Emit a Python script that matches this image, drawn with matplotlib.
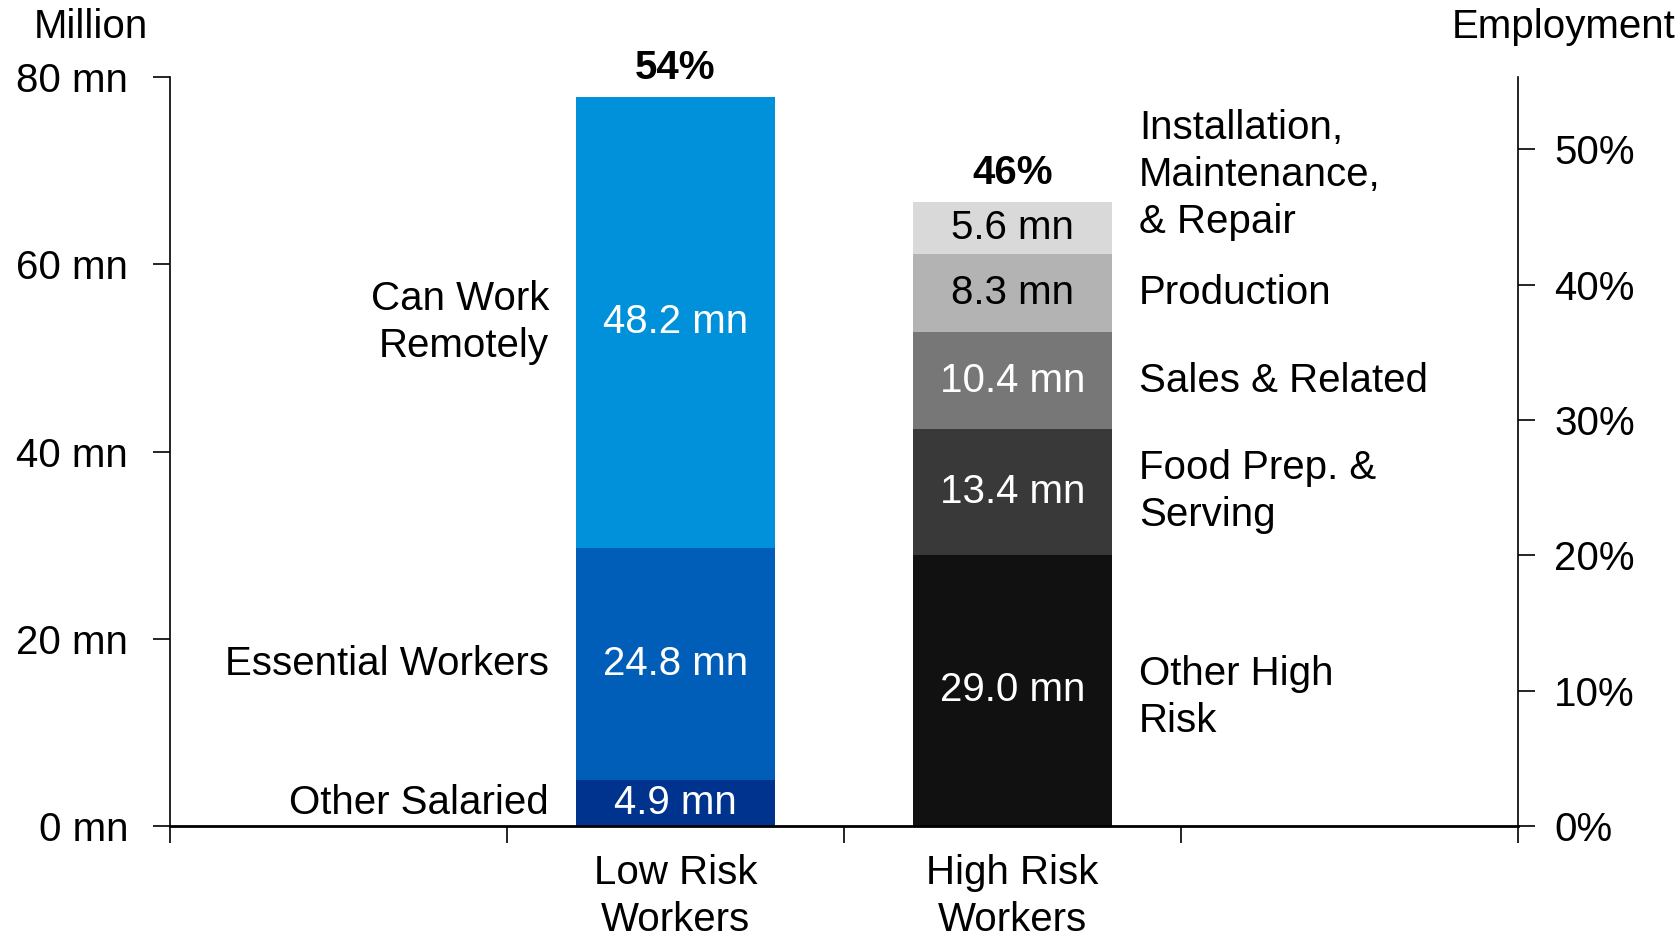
import numpy as np
import matplotlib.pyplot as plt

plt.rcParams['font.family'] = ['Liberation Sans', 'DejaVu Sans']
FS = 29
LS = 1.3

# data
groups = ["Low Risk\nWorkers", "High Risk\nWorkers"]
low_labels = ["Other Salaried", "Essential Workers", "Can Work\nRemotely"]
low_values = [4.9, 24.8, 48.2]
low_colors = ["#00338D", "#005EB8", "#0091DA"]
high_labels = ["Other High\nRisk", "Food Prep. &\nServing", "Sales & Related",
               "Production", "Installation,\nMaintenance,\n& Repair"]
high_values = [29.0, 13.4, 10.4, 8.3, 5.6]
high_colors = ["#111111", "#393939", "#777777", "#B3B3B3", "#D9D9D9"]
high_text = ["white", "white", "white", "black", "black"]

total = sum(low_values) + sum(high_values)

fig = plt.figure(figsize=(16.81, 9.41), dpi=100)
ax = fig.add_axes([0.101, 0.122, 0.802, 0.796])

w = 0.59
xl, xh = 1, 2

bottom = 0
for lab, v, c in zip(low_labels, low_values, low_colors):
    ax.bar(xl, v, w, bottom=bottom, color=c)
    mid = bottom + v / 2
    ax.text(xl, mid, f"{v:.1f} mn", ha="center", va="center", color="white", fontsize=FS)
    ax.text(xl - w / 2 - 0.08, mid, lab, ha="right", va="center", fontsize=FS,
            multialignment="right", linespacing=LS)
    bottom += v
ax.text(xl, bottom + 1.0, f"{sum(low_values) / total * 100:.0f}%", ha="center",
        va="bottom", fontsize=FS, fontweight="bold")

bottom = 0
for lab, v, c, tc in zip(high_labels, high_values, high_colors, high_text):
    ax.bar(xh, v, w, bottom=bottom, color=c)
    mid = bottom + v / 2
    ax.text(xh, mid, f"{v:.1f} mn", ha="center", va="center", color=tc, fontsize=FS)
    ly = mid
    if lab.startswith("Installation"):
        ly = mid + 5.6
    elif lab.startswith("Other"):
        ly = mid - 0.8
    ax.text(xh + w / 2 + 0.08, ly, lab, ha="left", va="center", fontsize=FS,
            linespacing=LS)
    bottom += v
ax.text(xh, bottom + 1.0, f"{sum(high_values) / total * 100:.0f}%", ha="center",
        va="bottom", fontsize=FS, fontweight="bold")

ax.set_xlim(-0.5, 3.5)
ax.set_ylim(0, 80)
ax.set_xticks([-0.5, 0.5, 1.5, 2.5, 3.5])
ax.set_xticklabels([])
ax.set_xticks([xl, xh], minor=True)
ax.set_xticklabels(groups, minor=True, fontsize=FS, linespacing=LS)
ax.tick_params(axis="x", which="minor", length=0, pad=20)
ax.tick_params(axis="x", which="major", length=12, width=1.2)
ax.set_yticks([0, 20, 40, 60, 80])
ax.set_yticklabels([f"{t} mn" for t in [0, 20, 40, 60, 80]], fontsize=FS)
ax.tick_params(axis="y", length=12, width=1.2, pad=18)
ax.spines["top"].set_visible(False)
ax.spines["right"].set_visible(False)
ax.spines["left"].set_linewidth(1.2)
ax.spines["bottom"].set_linewidth(2)

ax2 = ax.twinx()
ax2.set_ylim(0, 80 / total * 100)
ax2.set_yticks([0, 10, 20, 30, 40, 50])
ax2.set_yticklabels([f"{t}%" for t in [0, 10, 20, 30, 40, 50]], fontsize=FS)
ax2.tick_params(axis="y", length=12, width=1.2, pad=14)
for s in ["top", "left", "bottom"]:
    ax2.spines[s].set_visible(False)
ax2.spines["right"].set_linewidth(1.2)

fig.text(0.054, 0.992, "Million", ha="center", va="top", fontsize=FS)
fig.text(0.997, 0.992, "Employment", ha="right", va="top", fontsize=FS)

fig.savefig("out.png", dpi=100)
